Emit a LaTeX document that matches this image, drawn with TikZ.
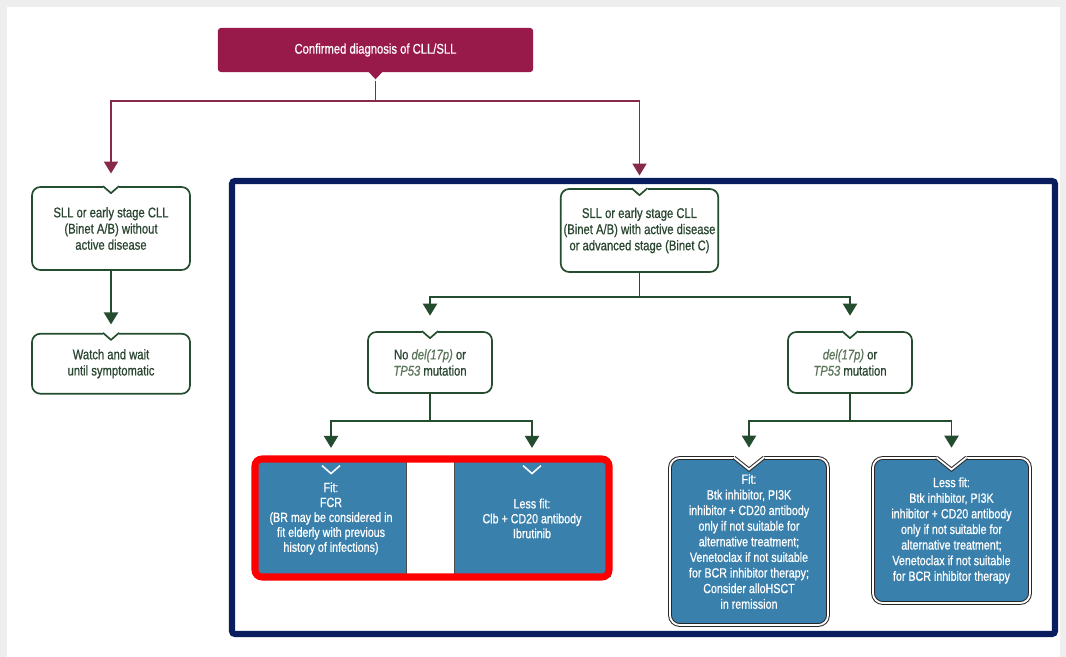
\documentclass[tikz,border=0pt]{standalone}
\usepackage{fontspec}
\setmainfont{Liberation Sans}[FakeStretch=0.8,FakeBold=0.7]
\usetikzlibrary{arrows.meta,positioning}

\definecolor{wine}{RGB}{152,26,74}
\definecolor{wineline}{RGB}{135,42,74}
\definecolor{leaf}{RGB}{36,76,46}
\definecolor{leaftext}{RGB}{42,70,48}
\definecolor{leafital}{RGB}{92,118,92}
\definecolor{sea}{RGB}{58,128,172}
\definecolor{navy}{RGB}{10,30,95}
\definecolor{pagegray}{RGB}{238,238,238}

% V-shaped dent in the top edge of a green box
\newcommand{\greennotch}[1]{%
  \begin{scope}[shift={(#1.north)}]
    \fill[white] (-8,-2) rectangle (8,2);
    \draw[leaf, line width=1.2pt, line join=round] (-8,0) -- (0,7) -- (8,0);
  \end{scope}}
% white chevron inside a blue box
\newcommand{\bluechevron}[1]{%
  \draw[white, line width=1.1pt, shift={(#1.north)}] (-9,5) -- (0,13) -- (9,5);}
% dent in the rimmed blue boxes
\newcommand{\deepnotch}[1]{%
  \begin{scope}[shift={(#1.north)}]
    \fill[white] (-15,-4) -- (15,-4) -- (15,0) -- (0,12) -- (-15,0) -- cycle;
    \draw[draw=black!85, double=white, double distance=1.3pt, line width=0.7pt] (-15,0) -- (0,12) -- (15,0);
  \end{scope}}

\begin{document}
\begin{tikzpicture}[
  x=0.025cm, y=-0.025cm,
  font=\fontsize{10}{11.5}\selectfont,
  >={Triangle[width=10pt,length=8.5pt]},
  diag/.style={rectangle, rounded corners=2pt, fill=wine, text=white,
               minimum width=7.875cm, minimum height=1.1cm, align=center},
  stage/.style={rectangle, rounded corners=6pt, draw=leaf, line width=1.2pt, fill=white,
                text=leaftext, align=center, inner sep=2pt},
  plan/.style={rectangle, draw=black!70, line width=0.6pt, fill=sea, text=white,
               align=center, inner sep=2pt, font=\fontsize{9.5}{10.6}\selectfont},
  therapy/.style={rectangle, rounded corners=7pt, draw=black!85, double=white,
                  double distance=1.3pt, line width=0.7pt, fill=sea, text=white,
                  align=center, inner sep=2pt, font=\fontsize{9.5}{11.1}\selectfont},
  mlink/.style={wineline, line width=1.3pt},
  marrow/.style={->, wineline, line width=1.3pt, shorten >=9pt},
  glink/.style={leaf, line width=1.3pt},
  garrow/.style={->, leaf, line width=1.3pt, shorten >=8pt},
]

% page
\fill[pagegray] (0,0) rectangle (1066,657);
\fill[white] (7,7) rectangle (1060,657);
\useasboundingbox (0,0) rectangle (1066,657);

\node[diag] (diagnosis) at (375.5,50) {Confirmed diagnosis of CLL/SLL};
\fill[wine, shift={(diagnosis.south)}] (-7,-0.5) -- (7,-0.5) -- (0,7) -- cycle;

\node[stage, minimum width=3.95cm, minimum height=2.075cm] (early) at (111,228.5)
  {SLL or early stage CLL\\(Binet A/B) without\\active disease};
\node[stage, minimum width=3.95cm, minimum height=1.5cm, below=1.55cm of early] (watch)
  {Watch and wait\\until symptomatic};

\node[stage, minimum width=3.925cm, minimum height=2.075cm] (active) at (639.5,230.5)
  {SLL or early stage CLL\\(Binet A/B) with active disease\\or advanced stage (Binet C)};
\node[stage, minimum width=3.1cm, minimum height=1.525cm] (nodel) at (430,362.5)
  {No \textcolor{leafital}{\itshape del(17p)} or\\\textcolor{leafital}{\itshape TP53} mutation};
\node[stage, minimum width=3.1cm, minimum height=1.525cm] (del) at (850,362.5)
  {\textcolor{leafital}{\itshape del(17p)} or\\\textcolor{leafital}{\itshape TP53} mutation};

\node[plan, minimum width=3.75cm, minimum height=2.875cm] (fitfcr) at (331,518.5)
  {Fit:\\FCR\\(BR may be considered in\\fit elderly with previous\\history of infections)};
\node[plan, minimum width=3.9cm, minimum height=2.875cm] (lessclb) at (532,518.5)
  {Less fit:\\Clb + CD20 antibody\\Ibrutinib};

\node[therapy, minimum width=3.95cm, minimum height=4.175cm] (fitbtk) at (749,541.5)
  {Fit:\\Btk inhibitor, PI3K\\inhibitor + CD20 antibody\\only if not suitable for\\alternative treatment;\\Venetoclax if not suitable\\for BCR inhibitor therapy;\\Consider alloHSCT\\in remission};
\node[therapy, minimum width=3.925cm, minimum height=3.625cm] (lessbtk) at (951.5,530.5)
  {Less fit:\\Btk inhibitor, PI3K\\inhibitor + CD20 antibody\\only if not suitable for\\alternative treatment;\\Venetoclax if not suitable\\for BCR inhibitor therapy};

\greennotch{early}
\greennotch{watch}
\greennotch{active}
\greennotch{nodel}
\greennotch{del}
\bluechevron{fitfcr}
\bluechevron{lessclb}
\deepnotch{fitbtk}
\deepnotch{lessbtk}

% frames
\draw[navy, line width=4.3pt, rounded corners=2pt] (232,181) rectangle (1055,634);
\draw[red, line width=5pt, rounded corners=5pt] (255,459) rectangle (609,577);

% connectors
\draw[mlink] ([yshift=-6pt]diagnosis.south) -- ++(0,20) coordinate (split);
\draw[marrow] (split) -| (early.north);
\draw[marrow] (split) -| (active.north);
\draw[garrow, shorten >=6pt] (early) -- (watch);

\draw[glink] (active.south) -- ++(0,24) coordinate (fork);
\draw[garrow, shorten >=11pt] (fork) -| (nodel.north);
\draw[garrow, shorten >=11pt] (fork) -| (del.north);

\draw[glink] (nodel.south) -- ++(0,27) coordinate (forkl);
\draw[garrow, shorten >=9pt] (forkl) -| (fitfcr.north);
\draw[garrow, shorten >=9pt] (forkl) -| (lessclb.north);

\draw[glink] (del.south) -- ++(0,27) coordinate (forkr);
\draw[garrow, shorten >=7pt] (forkr) -| (fitbtk.north);
\draw[garrow, shorten >=7pt] (forkr) -| (lessbtk.north);

\end{tikzpicture}
\end{document}
